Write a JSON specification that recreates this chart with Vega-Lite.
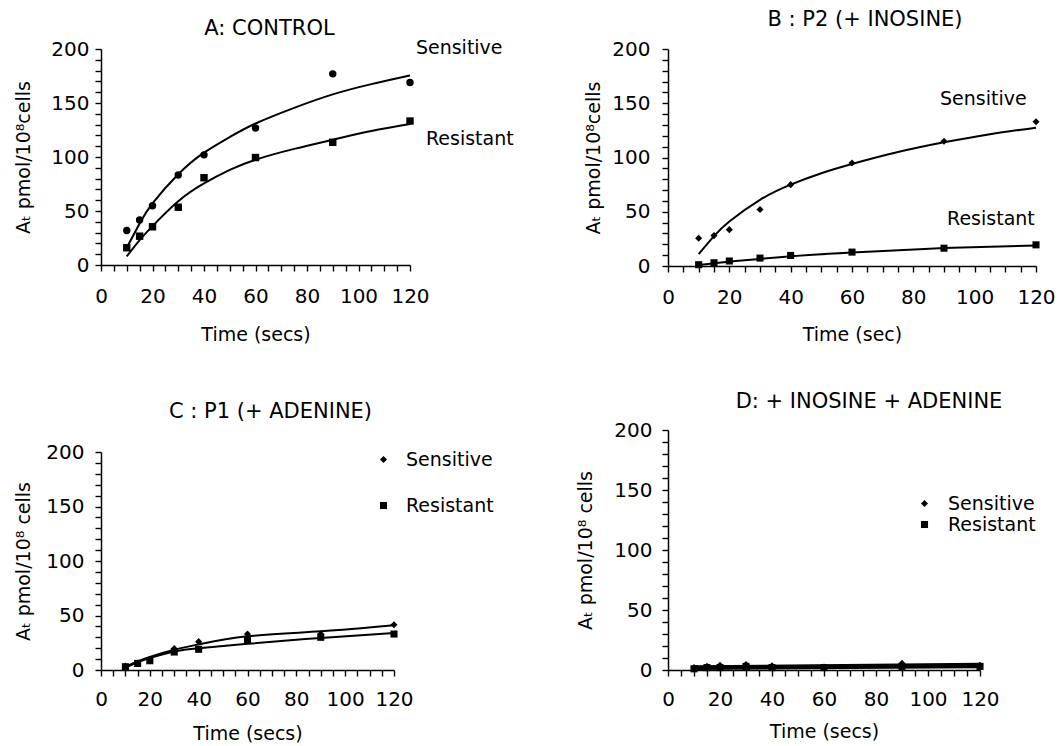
{
  "$schema": "https://vega.github.io/schema/vega-lite/v6.json",
  "background": "white",
  "padding": {"left": 14, "top": 9, "right": 0, "bottom": 0},
  "config": {
    "font": "DejaVu Sans",
    "view": {"stroke": null},
    "axis": {"grid": false, "domainColor": "black", "tickColor": "black", "labelColor": "black", "titleColor": "black", "labelFont": "DejaVu Sans", "labelFontSize": 20, "titleFont": "DejaVu Sans", "titleFontSize": 19, "titleFontWeight": "normal", "labelFlush": false, "labelBound": false, "labelOverlap": false, "domainWidth": 1.5, "tickWidth": 1.4, "tickOpacity": 1},
    "title": {"font": "DejaVu Sans", "fontSize": 21, "fontWeight": "normal", "color": "black"},
    "legend": {"labelFont": "DejaVu Sans", "labelFontSize": 19, "labelColor": "black", "symbolFillColor": "black", "symbolStrokeColor": "black", "padding": 0}
  },
  "datasets": {
    "a_pts": [
      {"t": 10, "v": 32, "s": "Sensitive"}, {"t": 15, "v": 41.6, "s": "Sensitive"}, {"t": 20, "v": 54.8, "s": "Sensitive"}, {"t": 30, "v": 83.3, "s": "Sensitive"}, {"t": 40, "v": 102, "s": "Sensitive"}, {"t": 60, "v": 126.8, "s": "Sensitive"}, {"t": 90, "v": 177, "s": "Sensitive"}, {"t": 120, "v": 169, "s": "Sensitive"},
      {"t": 10, "v": 16, "s": "Resistant"}, {"t": 15, "v": 26.7, "s": "Resistant"}, {"t": 20, "v": 35.4, "s": "Resistant"}, {"t": 30, "v": 53.5, "s": "Resistant"}, {"t": 40, "v": 80.8, "s": "Resistant"}, {"t": 60, "v": 99.5, "s": "Resistant"}, {"t": 90, "v": 113.6, "s": "Resistant"}, {"t": 120, "v": 133.3, "s": "Resistant"}
    ],
    "a_fit": [
      {"t": 10, "v": 16, "s": "Sensitive"}, {"t": 15, "v": 38.5, "s": "Sensitive"}, {"t": 20, "v": 57, "s": "Sensitive"}, {"t": 30, "v": 84, "s": "Sensitive"}, {"t": 40, "v": 104, "s": "Sensitive"}, {"t": 50, "v": 118.5, "s": "Sensitive"}, {"t": 60, "v": 131, "s": "Sensitive"}, {"t": 75, "v": 145.5, "s": "Sensitive"}, {"t": 90, "v": 158, "s": "Sensitive"}, {"t": 105, "v": 167.5, "s": "Sensitive"}, {"t": 120, "v": 175.5, "s": "Sensitive"},
      {"t": 10, "v": 8, "s": "Resistant"}, {"t": 15, "v": 23, "s": "Resistant"}, {"t": 20, "v": 36, "s": "Resistant"}, {"t": 30, "v": 59, "s": "Resistant"}, {"t": 40, "v": 75.5, "s": "Resistant"}, {"t": 50, "v": 88, "s": "Resistant"}, {"t": 60, "v": 97.5, "s": "Resistant"}, {"t": 75, "v": 107.5, "s": "Resistant"}, {"t": 90, "v": 116, "s": "Resistant"}, {"t": 105, "v": 124, "s": "Resistant"}, {"t": 120, "v": 130.5, "s": "Resistant"}
    ],
    "a_lab": [
      {"t": 122.3, "v": 201, "label": "Sensitive"},
      {"t": 126.2, "v": 117, "label": "Resistant"}
    ],
    "b_pts": [
      {"t": 10, "v": 25.6, "s": "Sensitive"}, {"t": 15, "v": 28, "s": "Sensitive"}, {"t": 20, "v": 33.5, "s": "Sensitive"}, {"t": 30, "v": 52, "s": "Sensitive"}, {"t": 40, "v": 75, "s": "Sensitive"}, {"t": 60, "v": 95, "s": "Sensitive"}, {"t": 90, "v": 115, "s": "Sensitive"}, {"t": 120, "v": 133, "s": "Sensitive"},
      {"t": 10, "v": 1.2, "s": "Resistant"}, {"t": 15, "v": 3, "s": "Resistant"}, {"t": 20, "v": 4.6, "s": "Resistant"}, {"t": 30, "v": 7.3, "s": "Resistant"}, {"t": 40, "v": 9.7, "s": "Resistant"}, {"t": 60, "v": 12.8, "s": "Resistant"}, {"t": 90, "v": 16.4, "s": "Resistant"}, {"t": 120, "v": 19.5, "s": "Resistant"}
    ],
    "b_fit": [
      {"t": 10, "v": 11, "s": "Sensitive"}, {"t": 15, "v": 27.5, "s": "Sensitive"}, {"t": 20, "v": 41, "s": "Sensitive"}, {"t": 30, "v": 61, "s": "Sensitive"}, {"t": 40, "v": 75, "s": "Sensitive"}, {"t": 50, "v": 85.5, "s": "Sensitive"}, {"t": 60, "v": 94, "s": "Sensitive"}, {"t": 75, "v": 105, "s": "Sensitive"}, {"t": 90, "v": 114, "s": "Sensitive"}, {"t": 105, "v": 121.5, "s": "Sensitive"}, {"t": 120, "v": 127.5, "s": "Sensitive"},
      {"t": 10, "v": 1, "s": "Resistant"}, {"t": 20, "v": 4, "s": "Resistant"}, {"t": 30, "v": 6.5, "s": "Resistant"}, {"t": 40, "v": 9, "s": "Resistant"}, {"t": 60, "v": 12.5, "s": "Resistant"}, {"t": 90, "v": 16.5, "s": "Resistant"}, {"t": 120, "v": 19, "s": "Resistant"}
    ],
    "b_lab": [
      {"t": 88.7, "v": 154, "label": "Sensitive"},
      {"t": 91, "v": 43, "label": "Resistant"}
    ],
    "c_pts": [
      {"t": 10, "v": 3.7, "s": "Sensitive"}, {"t": 15, "v": 6.4, "s": "Sensitive"}, {"t": 20, "v": 9, "s": "Sensitive"}, {"t": 30, "v": 19.6, "s": "Sensitive"}, {"t": 40, "v": 26, "s": "Sensitive"}, {"t": 60, "v": 33, "s": "Sensitive"}, {"t": 90, "v": 33, "s": "Sensitive"}, {"t": 120, "v": 41.5, "s": "Sensitive"},
      {"t": 10, "v": 3, "s": "Resistant"}, {"t": 15, "v": 6, "s": "Resistant"}, {"t": 20, "v": 8.5, "s": "Resistant"}, {"t": 30, "v": 16.5, "s": "Resistant"}, {"t": 40, "v": 19, "s": "Resistant"}, {"t": 60, "v": 27, "s": "Resistant"}, {"t": 90, "v": 30, "s": "Resistant"}, {"t": 120, "v": 33, "s": "Resistant"}
    ],
    "c_fit": [
      {"t": 10, "v": 2.7, "s": "Sensitive"}, {"t": 15, "v": 8, "s": "Sensitive"}, {"t": 20, "v": 12, "s": "Sensitive"}, {"t": 30, "v": 18.6, "s": "Sensitive"}, {"t": 40, "v": 23.5, "s": "Sensitive"}, {"t": 60, "v": 30.9, "s": "Sensitive"}, {"t": 90, "v": 35.5, "s": "Sensitive"}, {"t": 120, "v": 41, "s": "Sensitive"},
      {"t": 10, "v": 2, "s": "Resistant"}, {"t": 15, "v": 7, "s": "Resistant"}, {"t": 20, "v": 11, "s": "Resistant"}, {"t": 30, "v": 17, "s": "Resistant"}, {"t": 40, "v": 20, "s": "Resistant"}, {"t": 60, "v": 24, "s": "Resistant"}, {"t": 90, "v": 29.4, "s": "Resistant"}, {"t": 120, "v": 34, "s": "Resistant"}
    ],
    "d_pts": [
      {"t": 10, "v": 2, "s": "Sensitive"}, {"t": 15, "v": 3, "s": "Sensitive"}, {"t": 20, "v": 4, "s": "Sensitive"}, {"t": 30, "v": 4.5, "s": "Sensitive"}, {"t": 40, "v": 3.5, "s": "Sensitive"}, {"t": 60, "v": 2.5, "s": "Sensitive"}, {"t": 90, "v": 5.5, "s": "Sensitive"}, {"t": 120, "v": 4, "s": "Sensitive"},
      {"t": 10, "v": 1, "s": "Resistant"}, {"t": 15, "v": 2, "s": "Resistant"}, {"t": 20, "v": 2, "s": "Resistant"}, {"t": 30, "v": 3, "s": "Resistant"}, {"t": 40, "v": 2, "s": "Resistant"}, {"t": 60, "v": 2, "s": "Resistant"}, {"t": 90, "v": 3, "s": "Resistant"}, {"t": 120, "v": 3, "s": "Resistant"}
    ],
    "d_fit": [
      {"t": 10, "v": 2.5, "s": "Sensitive"}, {"t": 120, "v": 4.5, "s": "Sensitive"},
      {"t": 10, "v": 1.5, "s": "Resistant"}, {"t": 120, "v": 3, "s": "Resistant"}
    ]
  },
  "hconcat": [
    {
      "vconcat": [
        {
          "width": 309, "height": 216,
          "title": {"text": "A: CONTROL", "dx": 14, "offset": 0},
          "encoding": {
            "x": {"field": "t", "type": "quantitative", "scale": {"domain": [0, 120], "nice": false}, "axis": {"orient": "bottom", "title": "Time (secs)", "values": [0,20,40,60,80,100,120], "ticks": false, "tickSize": 0, "labelPadding": 21, "titlePadding": 19}},
            "y": {"field": "v", "type": "quantitative", "scale": {"domain": [0, 200], "nice": false}, "axis": {"orient": "left", "title": "Aₜ  pmol/10⁸cells", "values": [0,50,100,150,200], "ticks": false, "tickSize": 0, "labelPadding": 12, "titlePadding": 17}}
          },
          "layer": [
            {"data": {"name": "a_fit"}, "mark": {"type": "line", "color": "black", "strokeWidth": 2, "interpolate": "natural"},
             "encoding": {"detail": {"field": "s"}}},
            {"data": {"name": "a_pts"}, "mark": {"type": "point", "filled": true, "color": "black", "opacity": 1, "size": 55},
             "encoding": {
               "x": {"field": "t", "type": "quantitative", "axis": {"orient": "bottom", "title": null, "labels": false, "domain": false, "ticks": true, "tickSize": 6, "values": [0,5,10,15,20,25,30,35,40,45,50,55,60,65,70,75,80,85,90,95,100,105,110,115,120]}},
               "y": {"field": "v", "type": "quantitative", "axis": {"orient": "left", "title": null, "labels": false, "domain": false, "ticks": true, "tickSize": 6, "values": [0,10,20,30,40,50,60,70,80,90,100,110,120,130,140,150,160,170,180,190,200]}},
               "shape": {"field": "s", "type": "nominal", "scale": {"domain": ["Sensitive", "Resistant"], "range": ["circle", "square"]}, "legend": null}}},
            {"data": {"name": "a_lab"}, "mark": {"type": "text", "align": "left", "baseline": "middle", "fontSize": 19, "color": "black", "clip": false},
             "encoding": {
               "x": {"field": "t", "type": "quantitative", "axis": null},
               "y": {"field": "v", "type": "quantitative", "axis": null},
               "text": {"field": "label"}}}
          ],
          "resolve": {"axis": {"x": "independent", "y": "independent"}}
        },
        {
          "width": 293, "height": 218,
          "title": {"text": "C : P1 (+ ADENINE)", "dx": 23, "offset": 20},
          "encoding": {
            "x": {"field": "t", "type": "quantitative", "scale": {"domain": [0, 120], "nice": false}, "axis": {"orient": "bottom", "title": "Time (secs)", "values": [0,20,40,60,80,100,120], "ticks": false, "tickSize": 0, "labelPadding": 19, "titlePadding": 15}},
            "y": {"field": "v", "type": "quantitative", "scale": {"domain": [0, 200], "nice": false}, "axis": {"orient": "left", "title": "Aₜ  pmol/10⁸ cells", "values": [0,50,100,150,200], "ticks": false, "tickSize": 0, "labelPadding": 17, "titlePadding": 12}}
          },
          "layer": [
            {"data": {"name": "c_fit"}, "mark": {"type": "line", "color": "black", "strokeWidth": 2, "interpolate": "natural"},
             "encoding": {"detail": {"field": "s"}}},
            {"data": {"name": "c_pts"}, "mark": {"type": "point", "filled": true, "color": "black", "opacity": 1, "size": 50},
             "encoding": {
               "x": {"field": "t", "type": "quantitative", "axis": {"orient": "bottom", "title": null, "labels": false, "domain": false, "ticks": true, "tickSize": 6, "values": [0,5,10,15,20,25,30,35,40,45,50,55,60,65,70,75,80,85,90,95,100,105,110,115,120]}},
               "y": {"field": "v", "type": "quantitative", "axis": {"orient": "left", "title": null, "labels": false, "domain": false, "ticks": true, "tickSize": 6, "values": [0,10,20,30,40,50,60,70,80,90,100,110,120,130,140,150,160,170,180,190,200]}},
               "shape": {"field": "s", "type": "nominal", "scale": {"domain": ["Sensitive", "Resistant"], "range": ["diamond", "square"]},
                 "legend": {"orient": "none", "legendX": 273, "legendY": -2, "title": null, "symbolSize": 50, "rowPadding": 26, "labelOffset": 13}}}}
          ],
          "resolve": {"axis": {"x": "independent", "y": "independent"}}
        }
      ],
      "spacing": 57,
      "resolve": {"scale": {"shape": "independent"}, "legend": {"shape": "independent"}}
    },
    {
      "vconcat": [
        {
          "width": 368, "height": 217,
          "title": {"text": "B : P2 (+ INOSINE)", "dx": 13, "offset": 9},
          "encoding": {
            "x": {"field": "t", "type": "quantitative", "scale": {"domain": [0, 120], "nice": false}, "axis": {"orient": "bottom", "title": "Time (sec)", "values": [0,20,40,60,80,100,120], "ticks": false, "tickSize": 0, "labelPadding": 21, "titlePadding": 18}},
            "y": {"field": "v", "type": "quantitative", "scale": {"domain": [0, 200], "nice": false}, "axis": {"orient": "left", "title": "Aₜ  pmol/10⁸cells", "values": [0,50,100,150,200], "ticks": false, "tickSize": 0, "labelPadding": 18, "titlePadding": 8}}
          },
          "layer": [
            {"data": {"name": "b_fit"}, "mark": {"type": "line", "color": "black", "strokeWidth": 2, "interpolate": "natural"},
             "encoding": {"detail": {"field": "s"}}},
            {"data": {"name": "b_pts"}, "mark": {"type": "point", "filled": true, "color": "black", "opacity": 1, "size": 50},
             "encoding": {
               "x": {"field": "t", "type": "quantitative", "axis": {"orient": "bottom", "title": null, "labels": false, "domain": false, "ticks": true, "tickSize": 6, "values": [0,5,10,15,20,25,30,35,40,45,50,55,60,65,70,75,80,85,90,95,100,105,110,115,120]}},
               "y": {"field": "v", "type": "quantitative", "axis": {"orient": "left", "title": null, "labels": false, "domain": false, "ticks": true, "tickSize": 6, "values": [0,10,20,30,40,50,60,70,80,90,100,110,120,130,140,150,160,170,180,190,200]}},
               "shape": {"field": "s", "type": "nominal", "scale": {"domain": ["Sensitive", "Resistant"], "range": ["diamond", "square"]}, "legend": null}}},
            {"data": {"name": "b_lab"}, "mark": {"type": "text", "align": "left", "baseline": "middle", "fontSize": 19, "color": "black", "clip": false},
             "encoding": {
               "x": {"field": "t", "type": "quantitative", "axis": null},
               "y": {"field": "v", "type": "quantitative", "axis": null},
               "text": {"field": "label"}}}
          ],
          "resolve": {"axis": {"x": "independent", "y": "independent"}}
        },
        {
          "width": 312, "height": 240,
          "title": {"text": "D:  + INOSINE + ADENINE", "dx": 45, "offset": 8},
          "encoding": {
            "x": {"field": "t", "type": "quantitative", "scale": {"domain": [0, 120], "nice": false}, "axis": {"orient": "bottom", "title": "Time (secs)", "values": [0,20,40,60,80,100,120], "ticks": false, "tickSize": 0, "labelPadding": 19, "titlePadding": 13}},
            "y": {"field": "v", "type": "quantitative", "scale": {"domain": [0, 200], "nice": false}, "axis": {"orient": "left", "title": "Aₜ  pmol/10⁸ cells", "values": [0,50,100,150,200], "ticks": false, "tickSize": 0, "labelPadding": 16, "titlePadding": 18}}
          },
          "layer": [
            {"data": {"name": "d_fit"}, "mark": {"type": "line", "color": "black", "strokeWidth": 3.5},
             "encoding": {"detail": {"field": "s"}}},
            {"data": {"name": "d_pts"}, "mark": {"type": "point", "filled": true, "color": "black", "opacity": 1, "size": 50},
             "encoding": {
               "x": {"field": "t", "type": "quantitative", "axis": {"orient": "bottom", "title": null, "labels": false, "domain": false, "ticks": true, "tickSize": 6, "values": [0,5,10,15,20,25,30,35,40,45,50,55,60,65,70,75,80,85,90,95,100,105,110,115,120]}},
               "y": {"field": "v", "type": "quantitative", "axis": {"orient": "left", "title": null, "labels": false, "domain": false, "ticks": true, "tickSize": 6, "values": [0,10,20,30,40,50,60,70,80,90,100,110,120,130,140,150,160,170,180,190,200]}},
               "shape": {"field": "s", "type": "nominal", "scale": {"domain": ["Sensitive", "Resistant"], "range": ["diamond", "square"]},
                 "legend": {"orient": "none", "legendX": 247, "legendY": 64, "title": null, "symbolSize": 50, "rowPadding": 1, "labelOffset": 14}}}}
          ],
          "resolve": {"axis": {"x": "independent", "y": "independent"}}
        }
      ],
      "spacing": 47,
      "resolve": {"scale": {"shape": "independent"}, "legend": {"shape": "independent"}}
    }
  ],
  "spacing": 62,
  "resolve": {"scale": {"shape": "independent"}, "legend": {"shape": "independent"}}
}
